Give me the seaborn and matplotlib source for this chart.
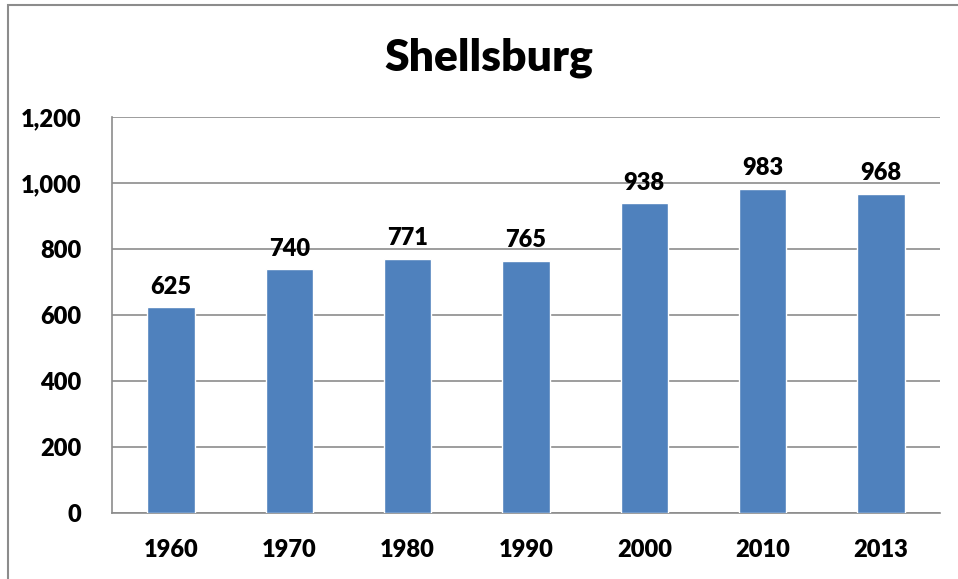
import numpy as np
import pandas as pd
import matplotlib
matplotlib.use("Agg")
import matplotlib.pyplot as plt
import seaborn as sns
from matplotlib.patches import Rectangle

# ---------- data ----------
years = ["1960", "1970", "1980", "1990", "2000", "2010", "2013"]
population = [625, 740, 771, 765, 938, 983, 968]
title = "Shellsburg"
# --------------------------

sns.set_style("white")
plt.rcParams['font.family'] = ['Lato', 'DejaVu Sans']
plt.rcParams['font.weight'] = 'bold'
plt.rcParams['text.color'] = 'black'
plt.rcParams['xtick.color'] = 'black'
plt.rcParams['ytick.color'] = 'black'

df = pd.DataFrame({"year": years, "pop": population})

fig = plt.figure(figsize=(9.58, 5.79), dpi=100)
ax = fig.add_axes([112 / 958, 1 - 513 / 579, 828 / 958, 396 / 579])

sns.barplot(data=df, x="year", y="pop", ax=ax, color="#4F81BD", width=0.4,
            saturation=1, zorder=3)

grid_c = "#8C8C8C"
ax.set_ylim(0, 1200)
ax.set_yticks(np.arange(0, 1201, 200))
ax.set_yticklabels([f"{v:,}" for v in range(0, 1201, 200)])
ax.yaxis.grid(True, color=grid_c, linewidth=1.2, zorder=0)
ax.set_axisbelow(True)

# category boundaries get the tick marks, labels sit in between
ax.set_xlim(-0.5, len(years) - 0.5)
ax.set_xticks(np.arange(-0.5, len(years), 1), minor=False)
ax.set_xticklabels([])
ax.set_xticks(np.arange(len(years)), minor=True)
ax.set_xticklabels(years, minor=True)
ax.tick_params(axis="x", which="major", length=8, width=1.2, color=grid_c, direction="out")
ax.tick_params(axis="x", which="minor", length=0, pad=19, labelsize=17, labelcolor="black")
ax.tick_params(axis="y", length=8, width=1.2, color=grid_c, direction="out", pad=14,
               labelsize=17, labelcolor="black")
for t in ax.get_xticklabels(minor=True) + ax.get_yticklabels():
    t.set_fontweight("heavy")

for s in ["top", "right"]:
    ax.spines[s].set_visible(False)
for s in ["left", "bottom"]:
    ax.spines[s].set_color(grid_c)
    ax.spines[s].set_linewidth(1.2)

ax.set_xlabel("")
ax.set_ylabel("")

for i, v in enumerate(population):
    ax.text(i, v + 28, f"{v:,}", ha="center", va="bottom", fontsize=17, fontweight="heavy",
            color="black")

fig.text(489 / 958, 1 - 58 / 579, title, ha="center", va="center", fontsize=32,
         fontweight="heavy", color="black")

# outer chart frame (right and bottom edges fall outside the image)
fig.patches.append(Rectangle((8 / 958, -0.05), 1.1, 1 - 5 / 579 + 0.05, transform=fig.transFigure,
                             fill=False, edgecolor="#8C8C8C", linewidth=1.5, clip_on=False))

fig.savefig("out.png", dpi=100, facecolor="white")
